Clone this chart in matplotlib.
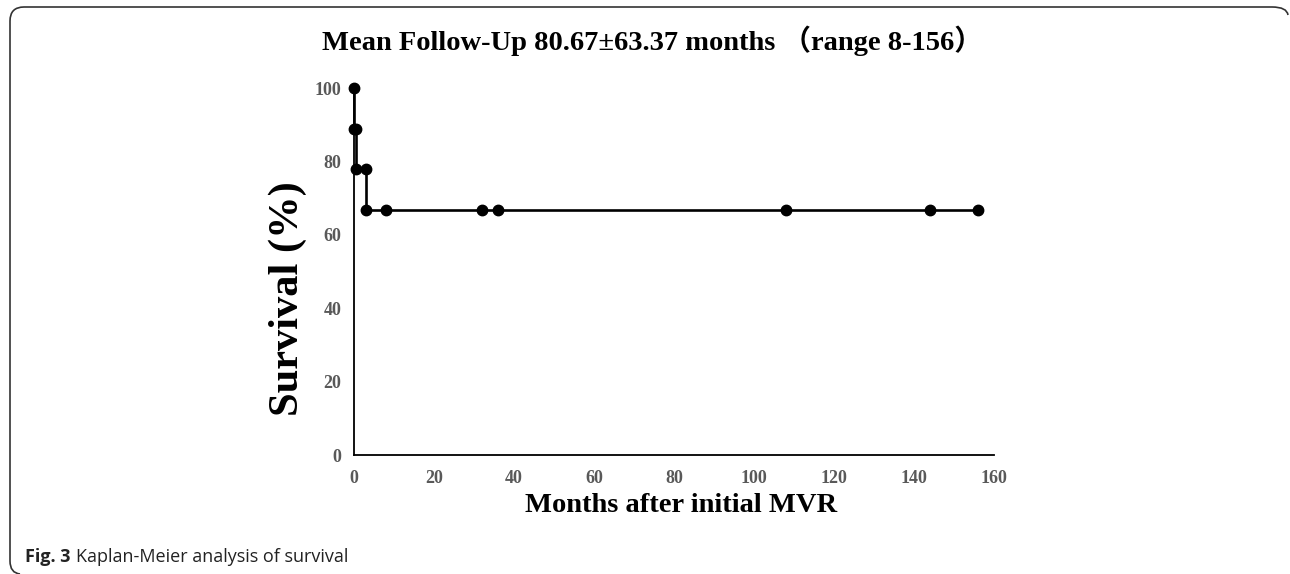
import matplotlib
matplotlib.use("Agg")
import matplotlib.pyplot as plt
from matplotlib.path import Path
from matplotlib.patches import PathPatch

# Kaplan-Meier steps
months = [0, 0, 0.5, 0.5, 3, 3, 8, 32, 36, 108, 144, 156]
survival = [100, 88.9, 88.9, 77.8, 77.8, 66.7, 66.7, 66.7, 66.7, 66.7, 66.7, 66.7]
x_ticks = [0, 20, 40, 60, 80, 100, 120, 140, 160]
y_ticks = [0, 20, 40, 60, 80, 100]

title = "Mean Follow-Up 80.67±63.37 months \uff08range 8-156\uff09"
xlabel = "Months after initial MVR"
ylabel = "Survival (%)"
caption_bold = "Fig. 3"
caption_text = "Kaplan-Meier analysis of survival"

W, H = 1290, 574
SERIF = ["Liberation Serif", "Noto Sans CJK SC", "DejaVu Serif"]
TICK_GREY = "#595959"


def px(x, y):
    return (x / W, 1 - y / H)


fig = plt.figure(figsize=(W / 100, H / 100), dpi=100)
ax = fig.add_axes([354 / W, (H - 455) / H, 640 / W, 367 / H])

ax.plot(months, survival, color="black", lw=1.9, marker="o", ms=7.5,
        clip_on=False, zorder=3)

ax.set_xlim(0, 160)
ax.set_ylim(0, 100)
ax.set_xticks(x_ticks)
ax.set_yticks(y_ticks)
ax.spines["top"].set_visible(False)
ax.spines["right"].set_visible(False)
for s in ("left", "bottom"):
    ax.spines[s].set_linewidth(1.3)
    ax.spines[s].set_color("black")
ax.tick_params(axis="both", length=0, labelcolor=TICK_GREY)
ax.tick_params(axis="x", pad=11)
ax.tick_params(axis="y", pad=9)
for lab in ax.get_xticklabels() + ax.get_yticklabels():
    lab.set_fontfamily(SERIF)
    lab.set_fontweight("bold")
    lab.set_fontsize(13)

fig.text(652 / W, 1 - 41 / H, title, ha="center", va="center",
         fontsize=20.5, fontweight="bold", family=SERIF)
fig.text(681 / W, 1 - 506 / H, xlabel, ha="center", va="center",
         fontsize=20.5, fontweight="bold", family=SERIF)
fig.text(288 / W, 1 - 299 / H, ylabel, ha="center", va="center",
         rotation=90, fontsize=30.5, fontweight="bold", family=SERIF)

# caption under the panel
t1 = fig.text(25 / W, 1 - 562 / H, caption_bold, ha="left", va="baseline",
              fontsize=13, fontweight="bold", family="Open Sans", color="#222222")
fig.add_artist(plt.Annotation(caption_text, xy=(1, 0), xycoords=t1,
                              xytext=(4, 0), textcoords="offset points",
                              ha="left", va="bottom", fontsize=13,
                              family="Open Sans", color="#222222"))

# rounded frame (top, left side)
verts = [px(1288, 15), px(1287, 7), px(1272, 7), px(24, 7), px(10, 7),
         px(10, 21), px(10, 561), px(10, 573), px(20, 574)]
codes = [Path.MOVETO, Path.CURVE3, Path.CURVE3, Path.LINETO, Path.CURVE3,
         Path.CURVE3, Path.LINETO, Path.CURVE3, Path.CURVE3]
fig.add_artist(PathPatch(Path(verts, codes), transform=fig.transFigure,
                         fill=False, lw=1.2, edgecolor="#333333"))

fig.savefig("out.png", dpi=100)
